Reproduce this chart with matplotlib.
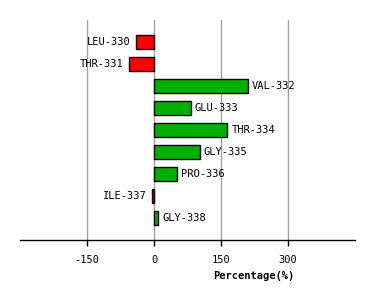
import matplotlib
matplotlib.use("Agg")
import matplotlib.pyplot as plt

residues = ["LEU-330", "THR-331", "VAL-332", "GLU-333", "THR-334",
            "GLY-335", "PRO-336", "ILE-337", "GLY-338"]
values = [-40, -56, 210, 82, 164, 102, 52, -4, 9]
xticks = [-150, 0, 150, 300]

W, H = 374, 300
fig = plt.figure(figsize=(W / 100, H / 100), dpi=100)
ax = fig.add_axes([20 / W, 60 / H, 335 / W, 220 / H])

ypos = list(range(len(residues)))
colors = ["#FF0000" if v < 0 else "#00B000" for v in values]
ax.barh(ypos, values, height=0.68, color=colors, edgecolor="black",
        linewidth=1.0, zorder=3)

for y, v, name in zip(ypos, values, residues):
    if v < 0:
        ax.annotate(name, xy=(v, y), xytext=(-4, 0), textcoords="offset points",
                    ha="right", va="center", fontsize=7.5,
                    family="DejaVu Sans Mono")
    else:
        ax.annotate(name, xy=(v, y), xytext=(3, 0), textcoords="offset points",
                    ha="left", va="center", fontsize=7.5,
                    family="DejaVu Sans Mono")

ax.set_xlim(-300, 450)
ax.set_ylim(len(residues), -1)
ax.set_yticks([])
ax.set_xticks(xticks)
ax.set_xticklabels([str(t) for t in xticks], family="DejaVu Sans Mono",
                   fontsize=7.5)
ax.tick_params(axis="x", length=4, width=1, pad=7, color="black")
ax.grid(axis="x", color="#A0A0A0", linewidth=1, zorder=0)
for s in ["top", "right", "left"]:
    ax.spines[s].set_visible(False)
ax.spines["bottom"].set_linewidth(1)

fig.text(254 / W, 1 - 276 / H, "Percentage(%)", ha="center", va="center",
         fontsize=7.5, fontweight="bold", family="DejaVu Sans Mono")

fig.savefig("out.png", dpi=100)
